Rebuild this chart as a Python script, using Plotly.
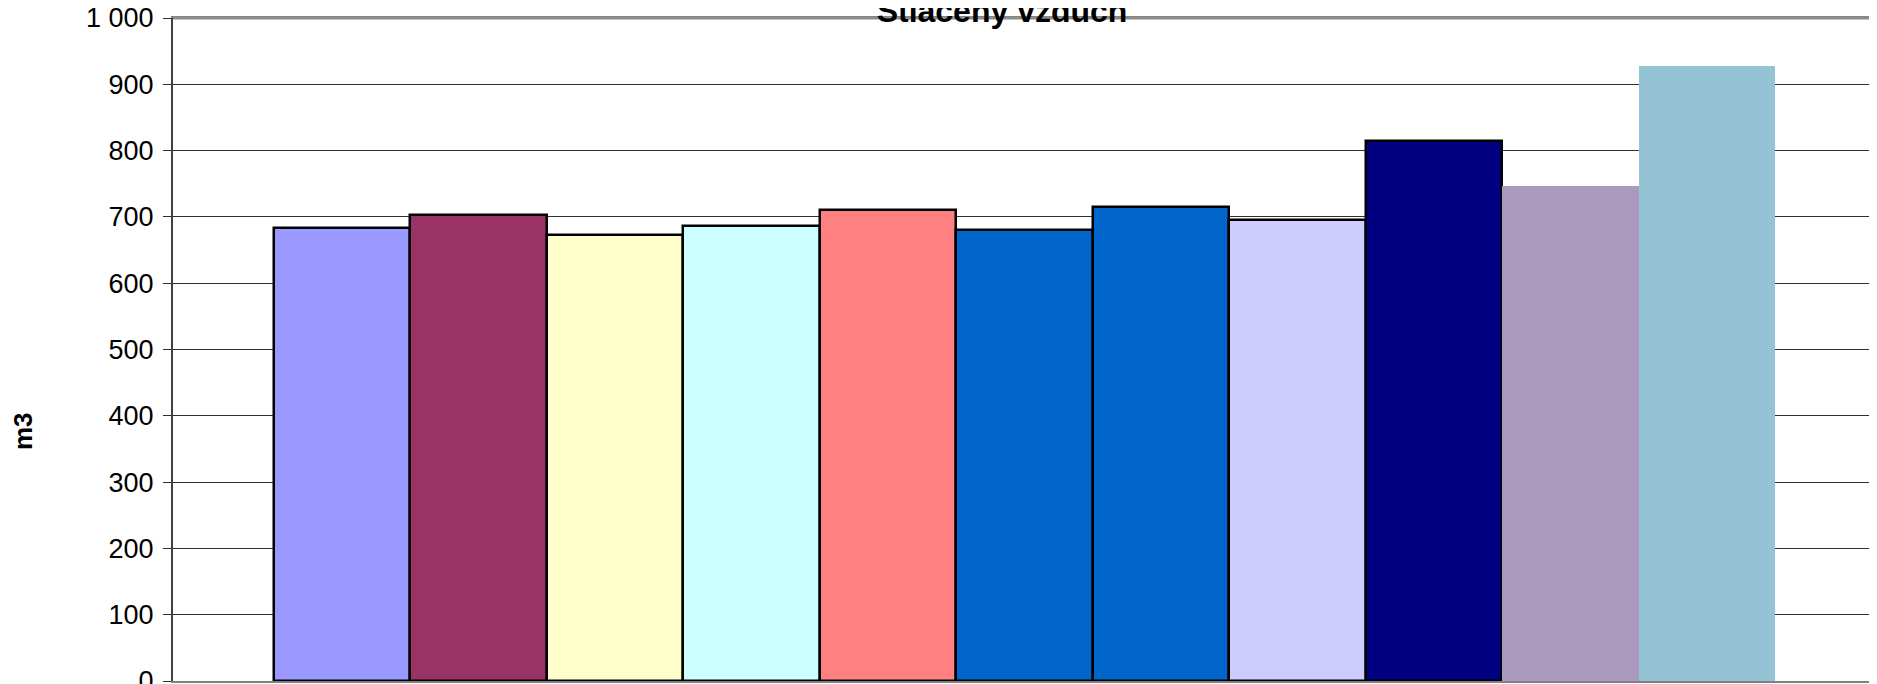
import plotly.graph_objects as go

categories = ["1", "2", "3", "4", "5", "6", "7", "8", "9", "10", "11"]
values = [684, 703, 672, 687, 711, 680, 715, 695, 814, 747, 927]
colors = ["#9999FF", "#993366", "#FFFFCC", "#CCFFFF", "#FF8080", "#0066CC",
          "#0066CC", "#CCCCFF", "#000080", "#AA9BBE", "#93C3D5"]
outline = [2.5, 2.5, 2.5, 2.5, 2.5, 2.5, 2.5, 2.5, 2.5, 0, 0]
y_ticks = [0, 100, 200, 300, 400, 500, 600, 700, 800, 900, 1000]

# page body has an 8px margin: compensate so the chart fills the window
OFF = 8
W, H = 1877 - OFF, 684 - OFF
L, R, T, B = 173 - OFF, 1, 18 - OFF, 3
PW, PH = W - L - R, H - T - B

fig = go.Figure()
fig.add_trace(go.Bar(
    x=categories, y=values,
    marker=dict(color=colors, line=dict(color="#000000", width=outline)),
    showlegend=False,
))

fig.update_layout(
    width=W, height=H,
    margin=dict(l=L, r=R, t=T, b=B, pad=0, autoexpand=False),
    paper_bgcolor="white", plot_bgcolor="white",
    bargap=0,
    separators=", ",
    font=dict(family="Liberation Sans, Arial, sans-serif", color="black"),
    title=dict(text="<b>Stlačený vzduch</b>", font=dict(size=32, color="black"),
               x=(1002 - OFF) / W, xref="container", xanchor="center",
               y=1 - 13.5 / H, yref="container", yanchor="bottom",
               automargin=False),
    xaxis=dict(range=[-1.238, 11.238], showticklabels=False, ticks="",
               showgrid=False, showline=True, linecolor="#808080", linewidth=2,
               mirror=True, zeroline=False, fixedrange=True, automargin=False),
    yaxis=dict(range=[0, 1000], tickvals=y_ticks, tickformat=",",
               ticks="outside", ticklen=8, tickcolor="#303030", tickwidth=1,
               ticklabelstandoff=4, ticklabeloverflow="allow",
               tickfont=dict(size=27),
               showgrid=True, gridcolor="#303030", gridwidth=1,
               showline=True, linecolor="#404040", linewidth=2,
               mirror=False, zeroline=False, automargin=False),
    annotations=[dict(text="<b>m3</b>", textangle=-90, showarrow=False,
                      xref="paper", yref="paper",
                      x=(23 - OFF - L) / PW, y=(H - B - (431 - OFF)) / PH,
                      xanchor="center", yanchor="middle",
                      font=dict(size=26, color="black"))],
)
fig.add_shape(type="line", xref="paper", yref="paper", x0=0, x1=1, y0=1, y1=1,
              line=dict(color="#8c8c8c", width=3))
fig.add_shape(type="line", xref="paper", yref="paper", x0=1, x1=1, y0=0, y1=1,
              line=dict(color="#8c8c8c", width=2))

fig.write_html("out.html")
